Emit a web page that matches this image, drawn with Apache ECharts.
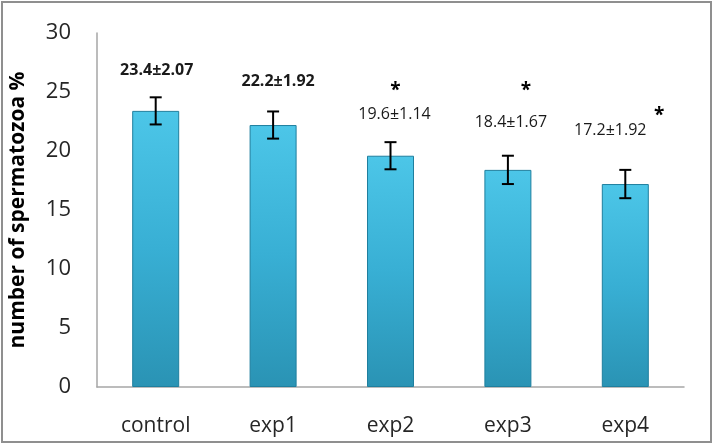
<!DOCTYPE html>
<html>
<head>
<meta charset="utf-8">
<script src="https://cdn.jsdelivr.net/npm/echarts@6/dist/echarts.min.js"></script>
<style>html,body{margin:0;padding:0;background:#fff}#c{width:714px;height:445px}</style>
</head>
<body>
<div id="c"></div>
<script>
var categories = ['control', 'exp1', 'exp2', 'exp3', 'exp4'];
var means = [23.4, 22.2, 19.6, 18.4, 17.2];
var errors = [1.15, 1.15, 1.15, 1.2, 1.2];
var labels = ['23.4\u00b12.07', '22.2\u00b11.92', '19.6\u00b11.14', '18.4\u00b11.67', '17.2\u00b11.92'];
var significant = [false, false, true, true, true];
var yTicks = [0, 5, 10, 15, 20, 25, 30];

// layout (pixel offsets, style only)
var labelLift = [40, 44, 41, 47, 54];
var labelShift = [1, 5, 4, 3, -15];
var labelBold = [true, true, false, false, false];
var starPos = [null, null, [5, 68], [18, 82], [34, 71]]; // [dx from bar centre, lift above bar top]

var chart = echarts.init(document.getElementById('c'), null, {renderer: 'canvas'});
var FONT = '"Open Sans", "Noto Sans", sans-serif';

var barColor = {
  type: 'linear', x: 0, y: 0, x2: 0, y2: 1,
  colorStops: [
    {offset: 0, color: '#4cc6e8'},
    {offset: 0.5, color: '#38afd4'},
    {offset: 1, color: '#2a93b4'}
  ]
};

chart.setOption({
  animation: false,
  backgroundColor: '#fff',
  grid: {left: 96, right: 30, top: 33, bottom: 58},
  xAxis: {
    type: 'category',
    data: categories,
    axisLine: {lineStyle: {color: '#a6a6a6', width: 1.5}},
    axisTick: {show: false},
    axisLabel: {color: '#262626', fontSize: 21, fontFamily: FONT, margin: 29}
  },
  yAxis: {
    type: 'value',
    min: 0, max: 30, interval: 5,
    name: 'number of spermatozoa %',
    nameLocation: 'middle',
    nameGap: 68,
    nameTextStyle: {color: '#000', fontSize: 21, fontWeight: 'bold', fontFamily: FONT},
    axisLine: {show: true, lineStyle: {color: '#a6a6a6', width: 1.5}},
    axisTick: {show: false},
    splitLine: {show: false},
    axisLabel: {color: '#262626', fontSize: 22, fontFamily: FONT, margin: 26,
      formatter: function (v) { return yTicks.indexOf(v) >= 0 ? String(v) : ''; }}
  },
  graphic: [{
    type: 'rect', shape: {x: 2, y: 2, width: 709, height: 440},
    style: {fill: 'none', stroke: '#8f8f8f', lineWidth: 2}, z: 100, silent: true
  }],
  series: [{
    type: 'bar',
    data: means,
    barWidth: 47,
    itemStyle: {color: barColor, borderColor: '#1f7f9e', borderWidth: 1}
  }, {
    type: 'custom',
    data: means.map(function (m, i) { return [i, m, errors[i]]; }),
    z: 10,
    renderItem: function (params, api) {
      var i = api.value(0);
      var m = api.value(1);
      var e = api.value(2);
      var top = api.coord([i, m + e]);
      var bot = api.coord([i, m - e]);
      var ctr = api.coord([i, m]);
      var cap = 6;
      var children = [
        {type: 'line', shape: {x1: top[0], y1: top[1], x2: bot[0], y2: bot[1]}, style: {stroke: '#000', lineWidth: 2}},
        {type: 'line', shape: {x1: top[0] - cap, y1: top[1], x2: top[0] + cap, y2: top[1]}, style: {stroke: '#000', lineWidth: 2}},
        {type: 'line', shape: {x1: bot[0] - cap, y1: bot[1], x2: bot[0] + cap, y2: bot[1]}, style: {stroke: '#000', lineWidth: 2}},
        {type: 'text', style: {
          text: labels[i], x: ctr[0] + labelShift[i], y: ctr[1] - labelLift[i],
          align: 'center', verticalAlign: 'middle',
          fill: '#1a1a1a', fontSize: 16, fontWeight: labelBold[i] ? 'bold' : 'normal', fontFamily: FONT
        }}
      ];
      if (significant[i] && starPos[i]) {
        children.push({type: 'text', style: {
          text: '*', x: ctr[0] + starPos[i][0], y: ctr[1] - starPos[i][1] + 3,
          align: 'center', verticalAlign: 'middle',
          fill: '#000', fontSize: 19, fontWeight: 'bold', fontFamily: FONT
        }});
      }
      return {type: 'group', children: children};
    }
  }]
});
</script>
</body>
</html>
